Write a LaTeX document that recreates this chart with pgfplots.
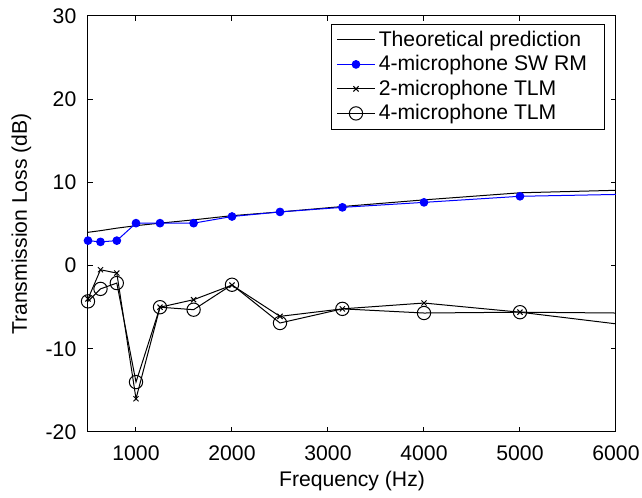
\documentclass[border=0pt]{standalone}
\usepackage{fontspec}
\setmainfont{Liberation Sans}
\usepackage{pgfplots}
\pgfplotsset{compat=1.18}
\begin{document}
\begin{tikzpicture}
\useasboundingbox (-52.8pt,-39.6pt) rectangle (332.4pt,259.2pt);
\begin{axis}[
  scale only axis,
  width=316.8pt, height=249.6pt,
  xmin=500, xmax=6000, ymin=-20, ymax=30,
  xtick={1000,2000,3000,4000,5000,6000},
  ytick={-20,-10,0,10,20,30},
  tick align=inside,
  major tick length=3pt,
  /pgf/number format/assume math mode=true,
  /pgf/number format/1000 sep={},
  tick label style={font=\fontsize{12.7pt}{15pt}\selectfont},
  xticklabel style={yshift=-5pt},
  yticklabel style={xshift=-3.5pt},
  xlabel={Frequency (Hz)},
  ylabel={Transmission Loss (dB)},
  every axis y label/.style={at={([xshift=-40pt]rel axis cs:0,0.5)}, rotate=90, anchor=center, font=\fontsize{12.7pt}{15pt}\selectfont},
  every axis x label/.style={at={([yshift=-29.5pt]rel axis cs:0.5,0)}, anchor=center, font=\fontsize{12.7pt}{15pt}\selectfont},
  legend style={at={(rel axis cs:0.979,0.981)}, anchor=north east,
    font=\fontsize{12.7pt}{15pt}\selectfont, draw=black, line width=0.5pt,
    row sep=0pt, inner xsep=3pt, inner ysep=2pt},
  legend cell align=left,
  legend image code/.code={\draw[#1] (0cm,0cm) -- (0.8cm,0cm); \draw[#1,mark repeat=1,mark phase=1] plot coordinates {(0.4cm,0cm)};},
  axis line style={line width=0.6pt},
  every tick/.style={line width=0.6pt, black},
]
\addplot[black, line width=0.6pt, no marks] coordinates {
 (500,4.0) (630,4.2) (800,4.5) (1000,4.8) (1250,5.1) (1600,5.5) (2000,6.0) (2500,6.45) (3150,7.1) (4000,7.9) (5000,8.75) (6000,9.05)
};
\addlegendentry{Theoretical prediction\rule{9pt}{0pt}}
\addplot[blue, line width=0.6pt, mark=*, mark size=2.3pt, mark options={fill=blue}, mark indices={1,2,3,4,5,6,7,8,9,10,11}] coordinates {
 (500,3.0) (630,2.85) (800,3.0) (1000,5.1) (1250,5.1) (1600,5.1) (2000,5.9) (2500,6.45) (3150,7.0) (4000,7.6) (5000,8.33) (6000,8.55)
};
\addlegendentry{4-microphone SW RM}
\addplot[black, line width=0.6pt, mark=x, mark size=2.2pt, mark indices={1,2,3,4,5,6,7,8,9,10,11}] coordinates {
 (500,-4.0) (630,-0.5) (800,-0.9) (1000,-16.0) (1250,-5.0) (1600,-4.1) (2000,-2.35) (2500,-6.1) (3150,-5.2) (4000,-4.5) (5000,-5.6) (6000,-7.0)
};
\addlegendentry{2-microphone TLM}
\addplot[black, line width=0.6pt, mark=o, mark size=4pt, mark indices={1,2,3,4,5,6,7,8,9,10,11}] coordinates {
 (500,-4.3) (630,-2.8) (800,-2.1) (1000,-14.0) (1250,-5.0) (1600,-5.3) (2000,-2.3) (2500,-6.9) (3150,-5.2) (4000,-5.7) (5000,-5.6) (6000,-5.7)
};
\addlegendentry{4-microphone TLM}
\end{axis}
\end{tikzpicture}
\end{document}
